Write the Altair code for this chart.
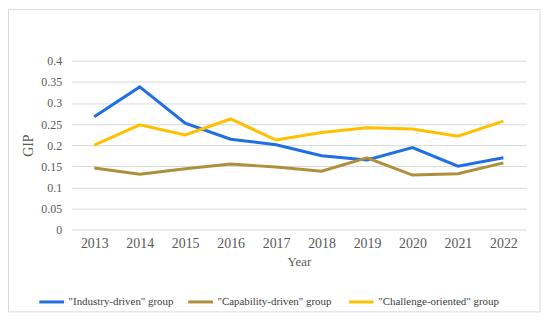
import altair as alt
import pandas as pd

years = ["2013", "2014", "2015", "2016", "2017", "2018", "2019", "2020", "2021", "2022"]
industry = [0.267, 0.338, 0.252, 0.214, 0.201, 0.175, 0.165, 0.194, 0.150, 0.170]
capability = [0.146, 0.131, 0.144, 0.155, 0.148, 0.138, 0.170, 0.129, 0.132, 0.158]
challenge = [0.200, 0.248, 0.224, 0.262, 0.212, 0.230, 0.241, 0.238, 0.221, 0.257]

names = ['"Industry-driven" group', '"Capability-driven"  group', '"Challenge-oriented" group']
colors = ["#1f6fe3", "#ae8f3c", "#ffc000"]

rows = []
for name, vals in zip(names, [industry, capability, challenge]):
    for y, v in zip(years, vals):
        rows.append({"Year": y, "GIP": v, "Group": name})
df = pd.DataFrame(rows)

FONT = "Liberation Serif"

lines = alt.Chart(df).mark_line(strokeWidth=3).encode(
    x=alt.X("Year:O", scale=alt.Scale(type="point", padding=0.5),
            axis=alt.Axis(labelAngle=0, title="Year", grid=False, domain=False, ticks=False,
                          labelPadding=7, titlePadding=5, labelFontSize=14)),
    y=alt.Y("GIP:Q", scale=alt.Scale(domain=[0, 0.4]),
            axis=alt.Axis(values=[0, 0.05, 0.1, 0.15, 0.2, 0.25, 0.3, 0.35, 0.4],
                          format="~g", domain=False, ticks=False, labelPadding=10,
                          title="GIP", titlePadding=5, titleFontSize=14)),
    color=alt.Color("Group:N", sort=names,
                    scale=alt.Scale(domain=names, range=colors),
                    legend=alt.Legend(title=None, orient="none", direction="horizontal",
                                      legendX=-34, legendY=229,
                                      symbolType="stroke", symbolStrokeWidth=3, symbolSize=620,
                                      labelFont=FONT, labelFontSize=11, columnPadding=8,
                                      labelOffset=3, labelLimit=300)),
)

border = alt.Chart(pd.DataFrame({"a": [0]})).mark_rect(
    fill="transparent", stroke="#d9d9d9", strokeWidth=1
).encode(x=alt.value(-63.5), x2=alt.value(472), y=alt.value(-51.5), y2=alt.value(253))

chart = alt.layer(border, lines).properties(
    width=458, height=170,
    padding={"left": 64, "top": 52, "right": 16, "bottom": 86},
    autosize=alt.AutoSizeParams(type="none"),
    background="white",
).configure_view(stroke=None).configure_axis(
    labelFont=FONT, labelFontSize=12, titleFont=FONT, titleFontSize=13,
    titleFontWeight="normal", labelColor="#595959", titleColor="#595959",
    gridColor="#d9d9d9",
).configure_legend(labelColor="#404040")

chart.save("out.html", embed_options={"renderer": "svg", "actions": False})
